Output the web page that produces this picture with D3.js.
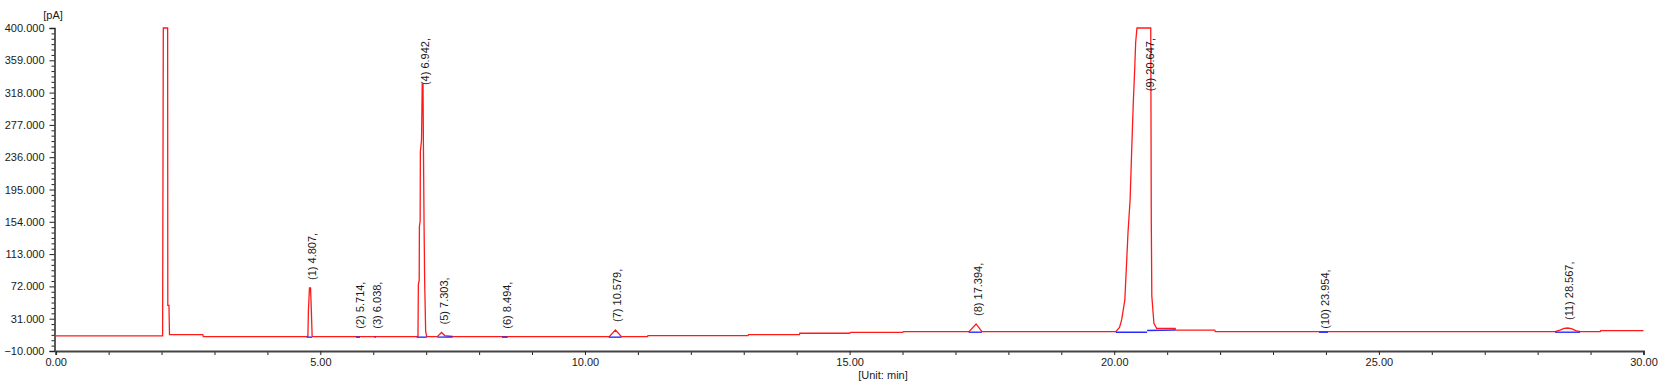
<!DOCTYPE html>
<html>
<head>
<meta charset="utf-8">
<script src="https://cdn.jsdelivr.net/npm/d3@7"></script>
<style>
  html, body { margin: 0; padding: 0; background: #fff; }
  svg { display: block; }
  text { font-family: "Liberation Sans", Arial, sans-serif; }
</style>
</head>
<body>
<svg id="chart" width="1665" height="386"></svg>
<script>
// ---- data ----
const yTickValues = [-10, 31, 72, 113, 154, 195, 236, 277, 318, 359, 400];
const xTickValues = [0, 5, 10, 15, 20, 25, 30];
const yUnitLabel = "[pA]";
const xUnitLabel = "[Unit: min]";

const peakNumbers = [1, 2, 3, 4, 5, 6, 7, 8, 9, 10, 11];
const peakTimes = [4.807, 5.714, 6.038, 6.942, 7.303, 8.494, 10.579, 17.394, 20.647, 23.954, 28.567];

// chromatogram trace (time in min, signal in pA)
const traceTime = [
  0, 2.02, 2.033, 2.115, 2.118, 2.14, 2.15, 2.78, 2.79,
  4.74, 4.765, 4.775, 4.795, 4.815, 4.83, 4.845, 4.86,
  6.82, 6.845, 6.852, 6.868, 6.872, 6.886, 6.89, 6.912, 6.925, 6.94, 6.948, 6.96, 6.972, 6.99, 7.01,
  7.21, 7.29, 7.35, 7.50, 7.52,
  10.46, 10.575, 10.69,
  11.18, 11.19, 13.08, 13.09, 14.05, 14.06, 15.0, 15.02, 16.0, 16.02,
  17.255, 17.39, 17.50,
  20.03, 20.10, 20.14, 20.20, 20.23, 20.26, 20.30, 20.33, 20.36, 20.385, 20.405, 20.43,
  20.69, 20.70, 20.71, 20.75, 20.80, 21.15, 21.16, 21.90, 21.91,
  28.33, 28.42, 28.50, 28.57, 28.65, 28.72, 28.80,
  29.18, 29.19, 30
];
const traceSignal = [
  9.2, 9.2, 400, 400, 48, 48, 10.8, 10.8, 8.2,
  8.2, 9, 42, 70, 70, 42, 9, 8.2,
  8.2, 9, 74, 80, 148, 155, 243, 258, 329, 329, 250, 150, 75, 15, 8.4,
  8.2, 13.5, 9.6, 8.4, 8.2,
  8.2, 16.7, 8.2,
  8.2, 9.4, 9.4, 10.7, 10.7, 12.5, 12.5, 13.6, 13.6, 14.5,
  14.5, 24.3, 14.5,
  14.5, 20, 29.4, 54.7, 97, 140, 182, 245, 305, 345, 382, 400,
  400, 156, 60, 25, 18.8, 18.8, 16.4, 16.4, 14.5,
  14.5, 16.5, 18.8, 19.2, 18, 16, 14.5,
  14.5, 15.8, 15.8
];

// integration baselines: [startTime, startValue, endTime, endValue]
const baseStart = [4.74, 5.67, 6.02, 6.82, 7.21, 8.43, 10.45, 17.25, 20.03, 20.62, 23.87, 28.33];
const baseStartVal = [8.2, 8.2, 8.2, 8.2, 8.2, 8.2, 8.2, 14.5, 14.5, 16.6, 14.5, 14.5];
const baseEnd = [4.85, 5.75, 6.05, 7.01, 7.50, 8.54, 10.69, 17.50, 20.62, 21.15, 24.04, 28.80];
const baseEndVal = [8.2, 8.2, 8.2, 8.2, 8.4, 8.2, 8.2, 14.5, 14.5, 17.2, 14.5, 14.5];

// ---- drawing ----
const svg = d3.select("#chart");
const x = d3.scaleLinear().domain([0, 30]).range([55.7, 1643.5]);
const y = d3.scaleLinear().domain([-10, 400]).range([351, 28]);

const fontSize = 11;
const textColor = "#1a1a1a";

// Y axis
const yAxisMajor = d3.axisLeft(y).tickValues(yTickValues).tickSize(5).tickPadding(5)
  .tickFormat(d3.format(".3f"));
const minorY = [];
for (let i = 0; i < yTickValues.length - 1; i++) {
  const step = (yTickValues[i + 1] - yTickValues[i]) / 6;
  for (let k = 1; k < 6; k++) minorY.push(yTickValues[i] + k * step);
}
const gy = svg.append("g").attr("transform", "translate(54.5,0)");
gy.append("g").call(d3.axisLeft(y).tickValues(minorY).tickSize(3).tickFormat(""))
  .call(g => g.select(".domain").remove())
  .call(g => g.selectAll("line").attr("stroke", "#222"));
gy.append("g").call(yAxisMajor)
  .call(g => g.select(".domain").attr("stroke", "#333").attr("stroke-width", 1.6))
  .call(g => g.selectAll("line").attr("stroke", "#222"))
  .call(g => g.selectAll("text").attr("font-size", fontSize).attr("fill", textColor)
    .attr("font-family", "'Liberation Sans', Arial, sans-serif"));

svg.append("text").attr("x", 53).attr("y", 19).attr("text-anchor", "middle")
  .attr("font-size", fontSize).attr("fill", textColor).text(yUnitLabel);

// X axis
const minorX = d3.range(0, 31, 1).filter(v => v % 5 !== 0);
const gx = svg.append("g").attr("transform", "translate(0,351)");
gx.append("g").call(d3.axisBottom(x).tickValues(minorX).tickSize(4).tickFormat(""))
  .call(g => g.select(".domain").remove())
  .call(g => g.selectAll("line").attr("stroke", "#222"));
gx.append("g").call(d3.axisBottom(x).tickValues(xTickValues).tickSize(4).tickPadding(3)
    .tickFormat(d3.format(".2f")))
  .call(g => g.select(".domain").attr("stroke", "#444").attr("stroke-width", 1.8))
  .call(g => g.selectAll("line").attr("stroke", "#222"))
  .call(g => g.selectAll("text").attr("font-size", fontSize).attr("fill", textColor)
    .attr("font-family", "'Liberation Sans', Arial, sans-serif"));

svg.append("text").attr("x", 883).attr("y", 379).attr("text-anchor", "middle")
  .attr("font-size", fontSize).attr("fill", textColor).text(xUnitLabel);

// trace
const trace = traceTime.map((t, i) => [t, traceSignal[i]]);
const line = d3.line().x(d => x(d[0])).y(d => y(d[1]));
svg.append("path").datum(trace).attr("d", line)
  .attr("fill", "none").attr("stroke", "#ff1a1a").attr("stroke-width", 1.3)
  .attr("stroke-linejoin", "miter");

// integration baselines (blue)
svg.append("g").selectAll("line").data(baseStart).join("line")
  .attr("x1", (d, i) => x(d)).attr("y1", (d, i) => y(baseStartVal[i]) + 0.5)
  .attr("x2", (d, i) => x(baseEnd[i])).attr("y2", (d, i) => y(baseEndVal[i]) + 0.5)
  .attr("stroke", "#2a2aff").attr("stroke-width", 1.4);

// peak labels
const labels = svg.append("g");
peakTimes.forEach((t, i) => {
  const apex = d3.max(trace.filter(d => Math.abs(d[0] - t) <= 0.09), d => d[1]) ?? 8.2;
  const txt = labels.append("text")
    .attr("font-size", fontSize).attr("fill", textColor)
    .attr("text-anchor", "start").attr("dominant-baseline", "central")
    .text(`(${peakNumbers[i]}) ${t.toFixed(3)},`);
  const len = txt.node().getComputedTextLength();
  let bottom = y(apex) - 8;
  if (bottom - len < 38) bottom = 38 + len;
  txt.attr("transform", `translate(${x(t) + 1.5},${bottom}) rotate(-90)`);
});
</script>
</body>
</html>
